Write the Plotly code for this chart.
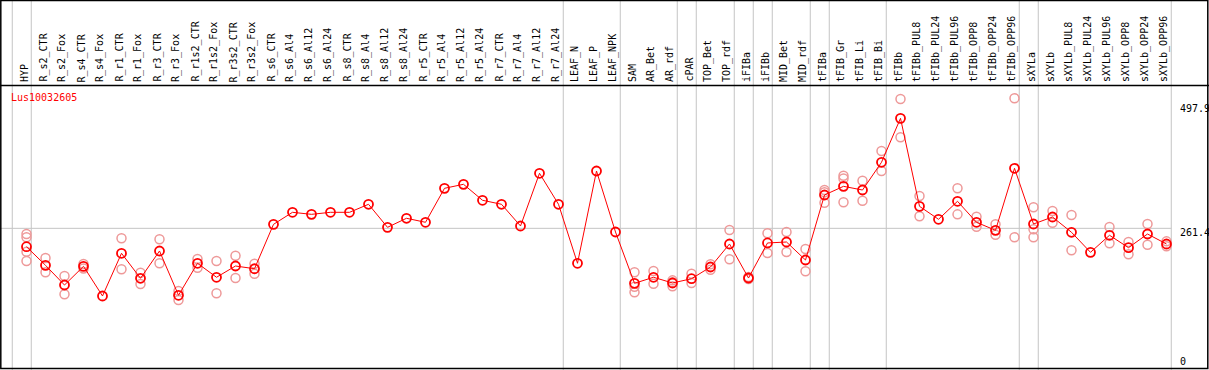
import plotly.graph_objects as go

categories = ["HYP", "R_s2_CTR", "R_s2_Fox", "R_s4_CTR", "R_s4_Fox", "R_r1_CTR", "R_r1_Fox",
              "R_r3_CTR", "R_r3_Fox", "R_r1s2_CTR", "R_r1s2_Fox", "R_r3s2_CTR", "R_r3s2_Fox",
              "R_s6_CTR", "R_s6_Al4", "R_s6_Al12", "R_s6_Al24", "R_s8_CTR", "R_s8_Al4", "R_s8_Al12",
              "R_s8_Al24", "R_r5_CTR", "R_r5_Al4", "R_r5_Al12", "R_r5_Al24", "R_r7_CTR", "R_r7_Al4",
              "R_r7_Al12", "R_r7_Al24", "LEAF_N", "LEAF_P", "LEAF_NPK", "SAM", "AR_Bet", "AR_rdf",
              "cPAR", "TOP_Bet", "TOP_rdf", "iFIBa", "iFIBb", "MID_Bet", "MID_rdf", "tFIBa", "tFIB_Gr",
              "tFIB_Li", "tFIB_Bi", "tFIBb", "tFIBb_PUL8", "tFIBb_PUL24", "tFIBb_PUL96", "tFIBb_OPP8",
              "tFIBb_OPP24", "tFIBb_OPP96", "sXYLa", "sXYLb", "sXYLb_PUL8", "sXYLb_PUL24", "sXYLb_PUL96",
              "sXYLb_OPP8", "sXYLb_OPP24", "sXYLb_OPP96"]

means = [227.0, 192.2, 155.3, 190.3, 134.8, 214.7, 167.9, 219.0, 136.1, 196.0, 169.8, 190.9, 185.8,
         268.9, 291.4, 287.6, 291.4, 291.4, 306.4, 263.3, 280.2, 272.7, 336.3, 343.8, 313.9, 306.4,
         265.8, 364.4, 306.4, 196.0, 368.7, 254.5, 158.5, 169.8, 159.1, 167.1, 189.0, 232.1, 168.4,
         234.0, 235.8, 202.1, 323.8, 340.0, 333.1, 385.0, 467.3, 302.6, 278.3, 312.0, 272.7, 257.7,
         373.8, 269.5, 282.6, 254.0, 216.5, 248.4, 225.2, 250.8, 232.1]

rep1 = [250.8, 205.9, 172.2, 194.6, None, 242.7, 178.4, 240.9, 144.1, 204.0, 200.3, 210.2, 195.2,
        None, None, None, None, None, None, None, None, None, None, None, None, None, None, None,
        None, None, None, None, 179.1, 181.5, 160.5, 176.5, 194.1, 258.3, 170.3, 252.1, 254.5, 222.7,
        333.1, 359.9, 350.6, 406.1, 503.5, 321.9, None, 336.3, 283.2, 269.0, 504.8, 300.8, 293.8,
        286.4, None, 263.9, 235.8, 269.5, 237.0]
rep2 = [244.6, 179.1, 137.9, 186.0, None, 184.7, 157.2, 196.0, 127.3, 187.7, 139.8, 168.4, 176.5,
        None, None, None, None, None, None, None, None, None, None, None, None, None, None, None,
        None, None, None, None, 152.2, 157.8, 152.9, 159.1, 183.9, 203.4, 166.5, 215.2, 217.1, 181.0,
        309.4, 354.9, 313.1, 368.7, 431.8, 283.9, None, 287.6, 264.5, 249.5, 244.6, 259.6, 272.0,
        220.3, None, 233.4, 212.8, 230.8, 227.8]
rep3 = [217.7, None, None, None, None, None, None, None, None, None, None, None, None,
        None, None, None, None, None, None, None, None, None, None, None, None, None, None, None,
        None, None, None, None, 141.7, None, 164.0, None, None, None, None, None, None, None,
        329.0, 310.1, None, None, None, None, None, None, None, None, None, 244.6, None,
        None, None, None, None, None, None]
rep4 = [200.3] + [None] * 60

title_text = "Lus10032605"
ytick_vals = [0, 261.4, 497.9]
ytick_text = ["0", "261.4", "497.9"]
group_breaks = [-1, 0, 28, 31, 34, 35, 37, 38, 39, 41, 42, 45, 52, 53, 60]
grid_value = 261.4

W, H = 1209, 370
PX0, PXSTEP = 26.5, 19.0          # pixel position of first category and spacing
Y0PX, YSCALE = 368.0, 0.5343      # pixel of value 0 and pixels per unit

xs = list(range(len(categories)))
x_range = [(0 - PX0) / PXSTEP, (W - PX0) / PXSTEP]
y_range = [(Y0PX - H) / YSCALE, Y0PX / YSCALE]

FONT = "DejaVu Sans Mono"
RED = "#ff0000"
PINK = "#ee9999"
GRID = "#c4c4c4"

fig = go.Figure()

for reps in (rep1, rep2, rep3, rep4):
    fig.add_trace(go.Scatter(
        x=xs, y=reps, mode="markers",
        marker=dict(symbol="circle-open", size=9, color=PINK, line=dict(width=1.5, color=PINK)),
        hoverinfo="skip"))

fig.add_trace(go.Scatter(
    x=xs, y=means, mode="lines+markers",
    line=dict(color=RED, width=1),
    marker=dict(symbol="circle-open", size=9, color=RED, line=dict(width=1.8, color=RED))))

shapes = []
for b in group_breaks:
    xb = b + 0.25
    shapes.append(dict(type="line", xref="x", yref="paper", x0=xb, x1=xb, y0=0, y1=1,
                       line=dict(color=GRID, width=1), layer="below"))
shapes.append(dict(type="line", xref="x", yref="y", x0=x_range[0], x1=60.25,
                   y0=grid_value, y1=grid_value, line=dict(color=GRID, width=1), layer="below"))
shapes.append(dict(type="rect", xref="paper", yref="paper", x0=0.8 / W, x1=(W - 1.2) / W,
                   y0=1.5 / H, y1=1 - 0.5 / H, line=dict(color="black", width=1.5)))
shapes.append(dict(type="line", xref="paper", yref="paper", x0=0, x1=1,
                   y0=1 - 85.5 / H, y1=1 - 85.5 / H, line=dict(color="black", width=1.5)))

annotations = []
for i, c in enumerate(categories):
    annotations.append(dict(
        x=(PX0 - 2.5 + PXSTEP * i) / W, y=1 - 84 / H, xref="paper", yref="paper",
        text=c, textangle=-90, showarrow=False, xanchor="center", yanchor="bottom",
        font=dict(family=FONT, size=10, color="black")))

annotations.append(dict(x=9 / W, y=1 - 97.8 / H, xref="paper", yref="paper", text=title_text,
                        showarrow=False, xanchor="left", yanchor="middle",
                        font=dict(family=FONT, size=10, color=RED)))

label_centers = {"0": 361.7, "261.4": 232.0, "497.9": 108.3}
for v, t in zip(ytick_vals, ytick_text):
    annotations.append(dict(x=1178 / W, y=1 - label_centers[t] / H, xref="paper", yref="paper",
                            text=t, showarrow=False, xanchor="left", yanchor="middle",
                            font=dict(family=FONT, size=10, color="black")))

fig.update_layout(
    width=W, height=H, margin=dict(l=0, r=0, t=0, b=0),
    paper_bgcolor="white", plot_bgcolor="white", showlegend=False,
    xaxis=dict(range=x_range, visible=False, fixedrange=True),
    yaxis=dict(range=y_range, visible=False, fixedrange=True),
    shapes=shapes, annotations=annotations)

fig.write_html("out.html", config={"displayModeBar": False},
               post_script="document.body.style.margin='0px';document.body.style.padding='0px';")
